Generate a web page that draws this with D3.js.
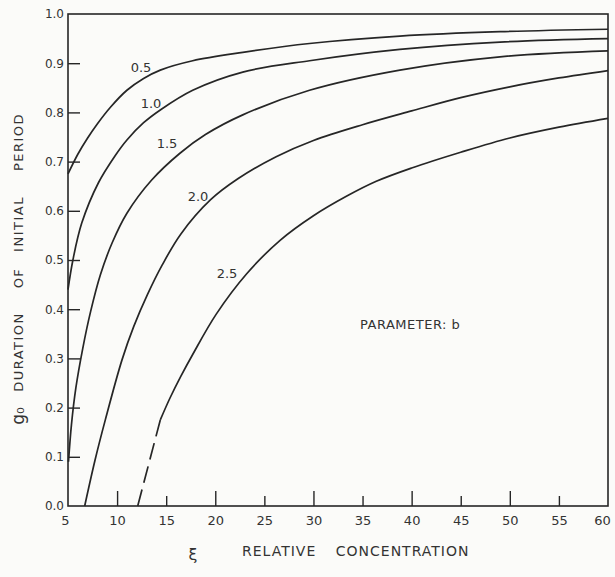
<!DOCTYPE html>
<html>
<head>
<meta charset="utf-8">
<title>Duration of initial period</title>
<script src="https://cdn.jsdelivr.net/npm/d3@7/dist/d3.min.js"></script>
<style>
  body { margin: 0; background: #fbfbf9; }
  svg text { font-family: "DejaVu Sans", sans-serif; fill: #333; }
</style>
</head>
<body>
<div id="chart"></div>
<script>
// tick values
var xTicks = [5, 10, 15, 20, 25, 30, 35, 40, 45, 50, 55, 60];
var yTicks = [0, 0.1, 0.2, 0.3, 0.4, 0.5, 0.6, 0.7, 0.8, 0.9, 1.0];

// curve values, [xi, g0]
var params = ["0.5", "1.0", "1.5", "2.0", "2.5"];
var curveB05 = [[5, 0.675], [6, 0.715], [7, 0.748], [8, 0.777], [9.3, 0.81], [11, 0.845], [12.7, 0.869],
  [14.4, 0.886], [17.7, 0.905], [22.8, 0.922], [29.6, 0.94], [38.8, 0.955], [49, 0.964], [60, 0.969]];
var curveB10 = [[5, 0.44], [5.5, 0.5], [6.4, 0.575], [8.1, 0.657], [9.8, 0.712], [11, 0.744], [12.7, 0.779],
  [14.4, 0.805], [17.7, 0.845], [22.8, 0.882], [29.6, 0.905], [38.8, 0.928], [49, 0.943], [60, 0.95]];
var curveB15 = [[5.05, 0.09], [5.35, 0.165], [5.8, 0.24], [6.5, 0.32], [7.3, 0.395], [8.3, 0.47], [9.5, 0.535],
  [11, 0.595], [13.5, 0.662], [16.4, 0.717], [19, 0.755], [22.8, 0.795], [29.6, 0.845], [38.8, 0.886],
  [49, 0.913], [60, 0.925]];
var curveB20 = [[6.7, 0.0], [7.75, 0.093], [8.8, 0.175], [10.5, 0.297], [11.7, 0.365], [13.1, 0.43],
  [14.6, 0.49], [16.5, 0.553], [19.5, 0.622], [22.3, 0.665], [26.2, 0.71], [30, 0.743], [35, 0.775],
  [40, 0.803], [45, 0.83], [50, 0.852], [55, 0.87], [60, 0.885]];
var curveB25 = [[14.4, 0.175], [15.4, 0.22], [16.5, 0.264], [17.7, 0.308], [20.1, 0.39], [23.2, 0.472],
  [26.6, 0.54], [30, 0.59], [33.4, 0.63], [36.4, 0.66], [40, 0.687], [45, 0.719], [50, 0.748],
  [55, 0.77], [60, 0.788]];
var curveB25Dashed = [[12.1, 0.0], [14.4, 0.175]];

var W = 615, H = 577;
var margin = {top: 14, right: 7, bottom: 71, left: 68};

var x = d3.scaleLinear().domain([5, 60]).range([margin.left, W - margin.right]);
var y = d3.scaleLinear().domain([0, 1]).range([H - margin.bottom, margin.top]);

var svg = d3.select("#chart").append("svg")
    .attr("width", W)
    .attr("height", H);

var ink = "#262626";

// frame
svg.append("rect")
    .attr("x", x(5)).attr("y", y(1))
    .attr("width", x(60) - x(5)).attr("height", y(0) - y(1))
    .attr("fill", "none").attr("stroke", ink).attr("stroke-width", 1.6);

// x axis, ticks pointing up into the plot
var xAxis = svg.append("g")
    .attr("transform", "translate(0," + y(0) + ")")
    .call(d3.axisBottom(x).tickValues(xTicks).tickSize(-10).tickPadding(10));
xAxis.select(".domain").remove();
xAxis.selectAll(".tick line")
    .attr("stroke", ink).attr("stroke-width", 1.4)
    .attr("y2", function(d) { return d % 10 == 0 ? -15 : -10; })
    .filter(function(d) { return d == 5 || d == 60; }).remove();
xAxis.selectAll("text")
    .style("font-size", "13px").style("fill", "#333")
    .attr("dx", function(d) { return d == 60 ? -6 : (d == 5 ? -3 : 0); });

// y axis, ticks pointing right into the plot
var yAxis = svg.append("g")
    .attr("transform", "translate(" + x(5) + ",0)")
    .call(d3.axisLeft(y).tickValues(yTicks).tickSize(-12).tickPadding(4).tickFormat(d3.format(".1f")));
yAxis.select(".domain").remove();
yAxis.selectAll(".tick line")
    .attr("stroke", ink).attr("stroke-width", 1.4)
    .filter(function(d) { return d == 0 || d == 1; }).remove();
yAxis.selectAll("text")
    .style("font-size", "12px").style("fill", "#333");

// curves
var line = d3.line()
    .x(function(d) { return x(d[0]); })
    .y(function(d) { return y(d[1]); })
    .curve(d3.curveCatmullRom.alpha(0.5));

var curves = [curveB05, curveB10, curveB15, curveB20, curveB25];
svg.selectAll(".curve")
    .data(curves)
  .enter().append("path")
    .attr("class", "curve")
    .attr("d", line)
    .attr("fill", "none")
    .attr("stroke", ink)
    .attr("stroke-width", 1.7);

svg.append("path")
    .attr("d", line(curveB25Dashed))
    .attr("fill", "none")
    .attr("stroke", ink)
    .attr("stroke-width", 1.7)
    .attr("stroke-dasharray", "17,7");

// curve labels
var labelPos = [[141, 72], [151, 108], [167, 148], [198, 201], [227, 278]];
svg.selectAll(".plabel")
    .data(params)
  .enter().append("text")
    .attr("class", "plabel")
    .attr("x", function(d, i) { return labelPos[i][0]; })
    .attr("y", function(d, i) { return labelPos[i][1]; })
    .attr("text-anchor", "middle")
    .style("font-size", "13px")
    .text(function(d) { return d; });

svg.append("text")
    .attr("x", 360).attr("y", 329)
    .style("font-size", "13px")
    .style("letter-spacing", "0.5px")
    .text("PARAMETER: b");

// axis titles
svg.append("text")
    .attr("x", 193).attr("y", 560)
    .attr("text-anchor", "middle")
    .style("font-size", "16px")
    .text("ξ");
svg.append("text")
    .attr("x", 242).attr("y", 556)
    .style("font-size", "14px")
    .style("letter-spacing", "1px")
    .style("word-spacing", "14px")
    .text("RELATIVE CONCENTRATION");

var yWords = [["PERIOD", 142], ["INITIAL", 224], ["OF", 278], ["DURATION", 352]];
yWords.forEach(function(w) {
  svg.append("text")
      .attr("transform", "translate(23," + w[1] + ") rotate(-90)")
      .attr("text-anchor", "middle")
      .style("font-size", "13px")
      .style("letter-spacing", "1.5px")
      .text(w[0]);
});
svg.append("text")
    .attr("transform", "translate(24,416) rotate(-90)")
    .attr("text-anchor", "middle")
    .style("font-size", "17px")
    .text("g₀");
</script>
</body>
</html>
